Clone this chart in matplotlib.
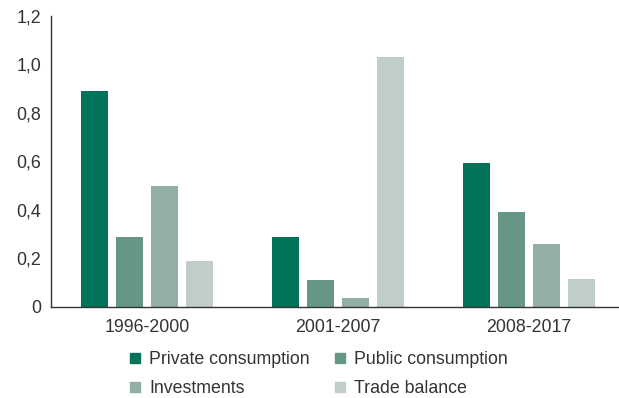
import numpy as np
import matplotlib.pyplot as plt
from matplotlib.lines import Line2D

periods = ['1996-2000', '2001-2007', '2008-2017']
series = ['Private consumption', 'Public consumption', 'Investments', 'Trade balance']
private = [0.89, 0.29, 0.595]
public = [0.29, 0.11, 0.39]
investments = [0.50, 0.037, 0.26]
trade = [0.19, 1.03, 0.115]
colors = ['#00735A', '#669786', '#93AFA4', '#BFCEC9']

plt.rcParams['font.family'] = ['Liberation Sans', 'DejaVu Sans']
plt.rcParams['font.size'] = 12.5

fig = plt.figure(figsize=(6.19, 3.98), dpi=100)
ax = fig.add_axes([0.0824, 0.229, 0.9176, 0.731])

x = np.arange(len(periods))
w = 0.142
step = 0.183
values = [private, public, investments, trade]
for i, (vals, c) in enumerate(zip(values, colors)):
    ax.bar(x + (i - 1.5) * step, vals, width=w, color=c, label=series[i])

ax.set_xlim(-0.503, 2.47)
ax.set_ylim(0, 1.2)
ax.set_yticks([0, 0.2, 0.4, 0.6, 0.8, 1.0, 1.2])
ax.set_yticklabels(['0', '0,2', '0,4', '0,6', '0,8', '1,0', '1,2'])
ax.set_xticks(x)
ax.set_xticklabels(periods)
ax.tick_params(axis='both', length=0, colors='#333333', labelsize=12.8)
ax.tick_params(axis='y', pad=7)
ax.tick_params(axis='x', pad=9)
for s in ['top', 'right']:
    ax.spines[s].set_visible(False)
for s in ['left', 'bottom']:
    ax.spines[s].set_color('#333333')
    ax.spines[s].set_linewidth(1.0)

# legend filled row by row
order = [0, 2, 1, 3]
handles = [Line2D([], [], marker='s', linestyle='none', markersize=7,
                  markerfacecolor=colors[k], markeredgecolor=colors[k]) for k in order]
labels = [series[k] for k in order]
fig.legend(handles, labels, loc='center', bbox_to_anchor=(319 / 619, 1 - 374 / 398),
           ncol=2, frameon=False, handlelength=0.6, handletextpad=0.5,
           columnspacing=1.4, labelspacing=0.65, fontsize=12.8,
           labelcolor='#333333', borderpad=0.2)

fig.savefig('out.png', dpi=100)
